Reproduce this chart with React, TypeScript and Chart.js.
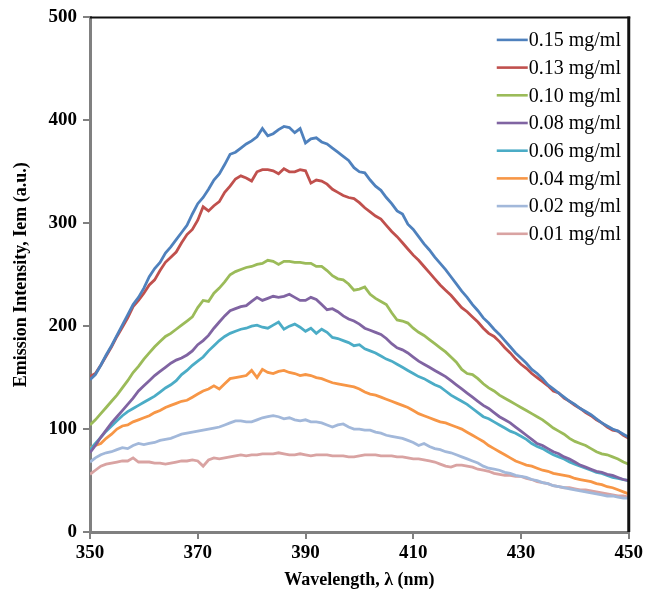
import React, { useEffect, useRef } from "react";
import { Chart, registerables } from "chart.js";

Chart.register(...registerables);

const wavelengths = [
  350, 351, 352, 353, 354, 355, 356, 357, 358, 359,
  360, 361, 362, 363, 364, 365, 366, 367, 368, 369,
  370, 371, 372, 373, 374, 375, 376, 377, 378, 379,
  380, 381, 382, 383, 384, 385, 386, 387, 388, 389,
  390, 391, 392, 393, 394, 395, 396, 397, 398, 399,
  400, 401, 402, 403, 404, 405, 406, 407, 408, 409,
  410, 411, 412, 413, 414, 415, 416, 417, 418, 419,
  420, 421, 422, 423, 424, 425, 426, 427, 428, 429,
  430, 431, 432, 433, 434, 435, 436, 437, 438, 439,
  440, 441, 442, 443, 444, 445, 446, 447, 448, 449, 450,
];

const seriesLabels = [
  "0.15 mg/ml",
  "0.13 mg/ml",
  "0.10 mg/ml",
  "0.08 mg/ml",
  "0.06 mg/ml",
  "0.04 mg/ml",
  "0.02 mg/ml",
  "0.01 mg/ml",
];

const c015 = [
  148, 153, 162, 172, 181, 191, 201, 211, 221, 228,
  237, 248, 256, 262, 271, 277, 284, 291, 298, 309,
  319, 325, 333, 342, 348, 357, 367, 369, 373, 377,
  380, 384, 392, 385, 387, 391, 394, 393, 388, 392,
  378, 382, 383, 379, 377, 373, 369, 365, 361, 354,
  350, 349, 342, 336, 332, 325, 319, 312, 309, 299,
  294, 287, 280, 274, 267, 261, 255, 248, 241, 234,
  228, 221, 215, 208, 203, 197, 192, 186, 180, 174,
  169, 164, 158, 154, 149, 143, 139, 135, 131, 127,
  124, 120, 117, 114, 110, 106, 103, 100, 98, 95, 92,
];

const c013 = [
  151, 154, 162, 171, 180, 190, 199, 208, 219, 225,
  232, 240, 245, 254, 262, 267, 272, 281, 289, 294,
  303, 316, 312, 317, 321, 330, 336, 343, 346, 344,
  341, 350, 352, 352, 351, 348, 353, 350, 350, 352,
  351, 339, 342, 341, 338, 333, 330, 327, 325, 324,
  320, 315, 311, 307, 304, 298, 292, 287, 281, 275,
  269, 264, 258, 252, 246, 240, 235, 230, 224, 218,
  214, 209, 204, 198, 193, 190, 185, 179, 174, 168,
  163, 159, 154, 150, 146, 142, 137, 135, 130, 127,
  123, 120, 116, 113, 109, 106, 102, 99, 98, 94, 91,
];

const c010 = [
  104, 109, 115, 121, 127, 133, 140, 147, 155, 161,
  168, 174, 180, 185, 190, 193, 197, 201, 205, 209,
  218, 225, 224, 232, 237, 243, 250, 253, 255, 257,
  258, 260, 261, 264, 263, 260, 263, 263, 262, 262,
  261, 261, 258, 258, 254, 249, 246, 245, 241, 235,
  236, 238, 231, 227, 224, 221, 213, 206, 205, 203,
  198, 194, 191, 187, 183, 179, 175, 170, 165, 158,
  154, 153, 149, 144, 140, 137, 133, 130, 127, 124,
  121, 118, 115, 112, 109, 105, 101, 98, 95, 91,
  88, 86, 84, 81, 78, 76, 75, 73, 71, 68, 66,
];

const c008 = [
  77, 84, 92, 99, 106, 112, 118, 124, 130, 137,
  142, 147, 152, 156, 160, 164, 167, 169, 172, 176,
  182, 186, 191, 198, 204, 210, 215, 217, 219, 220,
  224, 228, 225, 227, 229, 228, 229, 231, 228, 225,
  225, 228, 226, 221, 216, 217, 214, 210, 207, 205,
  202, 198, 196, 194, 192, 188, 183, 179, 177, 174,
  170, 166, 163, 160, 157, 154, 151, 147, 143, 139,
  135, 131, 127, 123, 120, 116, 112, 109, 106, 102,
  98, 94, 90, 86, 84, 81, 78, 76, 73, 71,
  68, 65, 63, 61, 59, 58, 56, 55, 53, 51, 50,
];

const c006 = [
  80, 86, 92, 98, 103, 108, 113, 117, 120, 123,
  126, 129, 132, 136, 140, 143, 147, 153, 157, 162,
  166, 170, 176, 181, 186, 190, 193, 195, 197, 198,
  200, 201, 199, 198, 201, 204, 197, 200, 202, 199,
  195, 198, 193, 197, 194, 189, 188, 186, 184, 181,
  182, 178, 176, 174, 171, 168, 166, 163, 160, 157,
  154, 151, 149, 146, 143, 141, 137, 133, 130, 127,
  124, 120, 116, 112, 110, 107, 104, 101, 98, 96,
  93, 90, 86, 83, 81, 78, 75, 73, 71, 68,
  66, 64, 62, 60, 58, 57, 55, 53, 52, 51, 50,
];

const c004 = [
  82, 84, 86, 91, 95, 100, 103, 104, 107, 109,
  111, 113, 116, 118, 121, 123, 125, 127, 128, 131,
  134, 137, 139, 142, 139, 144, 149, 150, 151, 152,
  157, 150, 158, 155, 154, 156, 157, 155, 154, 152,
  153, 152, 150, 149, 147, 145, 144, 143, 142, 141,
  139, 136, 134, 133, 131, 129, 127, 125, 123, 121,
  118, 115, 113, 111, 109, 107, 106, 104, 102, 100,
  97, 94, 91, 88, 84, 81, 78, 75, 72, 69,
  67, 65, 64, 62, 60, 59, 57, 56, 55, 54,
  52, 51, 50, 49, 47, 46, 44, 43, 41, 39, 37,
];

const c002 = [
  68, 72, 75, 77, 78, 80, 82, 81, 84, 86,
  85, 86, 87, 89, 90, 91, 93, 95, 96, 97,
  98, 99, 100, 101, 102, 104, 106, 108, 108, 107,
  107, 109, 111, 112, 113, 112, 110, 111, 109, 108,
  109, 107, 107, 106, 104, 102, 104, 105, 102, 100,
  100, 99, 99, 97, 96, 94, 93, 92, 91, 89,
  87, 84, 86, 83, 81, 80, 78, 77, 75, 73,
  71, 69, 67, 64, 62, 61, 60, 58, 57, 55,
  54, 53, 51, 50, 48, 47, 45, 44, 43, 42,
  41, 40, 39, 38, 37, 36, 35, 35, 34, 33, 33,
];

const c001 = [
  56, 60, 64, 66, 67, 68, 69, 69, 72, 68,
  68, 68, 67, 67, 66, 67, 68, 69, 69, 70,
  69, 64, 70, 72, 71, 72, 73, 74, 75, 74,
  75, 75, 76, 76, 76, 77, 76, 75, 75, 76,
  75, 74, 75, 75, 75, 74, 74, 74, 73, 73,
  74, 75, 75, 75, 74, 74, 74, 73, 73, 72,
  71, 71, 70, 69, 68, 66, 64, 63, 65, 65,
  64, 63, 61, 60, 59, 57, 56, 55, 55, 54,
  54, 52, 51, 49, 48, 47, 45, 44, 43, 43,
  42, 41, 41, 40, 39, 38, 37, 36, 35, 35, 34,
];

const seriesValues = [c015, c013, c010, c008, c006, c004, c002, c001];

const seriesColors = [
  "#4F81BD",
  "#C0504D",
  "#9BBB59",
  "#8064A2",
  "#4BACC6",
  "#F79646",
  "#A2B8DA",
  "#D9A3A2",
];

const xTicks = [350, 370, 390, 410, 430, 450];
const yTicks = [0, 100, 200, 300, 400, 500];

const xTitle = "Wavelength, λ (nm)";
const yTitle = "Emission Intensity, Iem (a.u.)";

const FONT = "'Liberation Serif', 'Times New Roman', Times, serif";

const framePlugin = {
  id: "frameBorder",
  afterDatasetsDraw(chart: any) {
    const { ctx, chartArea } = chart;
    const { left, right, top, bottom } = chartArea;
    ctx.save();
    ctx.strokeStyle = "#111111";
    ctx.lineWidth = 2;
    ctx.beginPath();
    ctx.moveTo(left, top);
    ctx.lineTo(right + 1.5, top);
    ctx.stroke();
    ctx.lineWidth = 3;
    ctx.beginPath();
    ctx.moveTo(right, top - 1);
    ctx.lineTo(right, bottom);
    ctx.stroke();
    ctx.restore();
  },
};

const insideLegendPlugin = {
  id: "insideLegend",
  afterDraw(chart: any) {
    const { ctx, chartArea } = chart;
    const x0 = chartArea.right - 132;
    const y0 = chartArea.top + 22.5;
    const step = 27.7;
    ctx.save();
    ctx.font = `20px ${FONT}`;
    ctx.textBaseline = "middle";
    ctx.textAlign = "left";
    chart.data.datasets.forEach((ds: any, i: number) => {
      const y = y0 + i * step;
      ctx.strokeStyle = ds.borderColor;
      ctx.lineWidth = 2.6;
      ctx.beginPath();
      ctx.moveTo(x0, y);
      ctx.lineTo(x0 + 31, y);
      ctx.stroke();
      ctx.fillStyle = "#000000";
      ctx.fillText(ds.label, x0 + 32, y + 1);
    });
    ctx.restore();
  },
};

export default function App() {
  const canvasRef = useRef<HTMLCanvasElement | null>(null);

  useEffect(() => {
    const canvas = canvasRef.current;
    if (!canvas) return;

    const datasets = seriesLabels.map((label, i) => ({
      label,
      data: wavelengths.map((w, j) => ({ x: w, y: seriesValues[i][j] })),
      borderColor: seriesColors[i],
      backgroundColor: seriesColors[i],
      borderWidth: 2.8,
      pointRadius: 0,
      tension: 0,
      fill: false,
    }));

    const chart = new Chart(canvas, {
      type: "line",
      data: { datasets },
      plugins: [framePlugin, insideLegendPlugin],
      options: {
        responsive: false,
        animation: false,
        devicePixelRatio: 1,
        layout: { padding: { top: 16, right: 16, left: 0, bottom: 0 } },
        plugins: {
          legend: { display: false },
          tooltip: { enabled: false },
          title: { display: false },
        },
        scales: {
          x: {
            type: "linear",
            min: 350,
            max: 450,
            afterBuildTicks: (s: any) => {
              s.ticks = xTicks.map((v) => ({ value: v }));
            },
            afterFit: (s: any) => {
              s.height = 59;
            },
            grid: {
              drawOnChartArea: false,
              drawTicks: true,
              tickLength: 7,
              color: "#808080",
              lineWidth: 2,
            },
            border: { display: true, color: "#808080", width: 3 },
            ticks: {
              color: "#000000",
              font: { family: FONT, size: 19, weight: "bold" },
              padding: 3,
              maxRotation: 0,
              autoSkip: false,
            },
            title: {
              display: true,
              text: xTitle,
              color: "#000000",
              font: { family: FONT, size: 18, weight: "bold" },
              padding: { top: 0, bottom: 0 },
            },
          },
          y: {
            type: "linear",
            min: 0,
            max: 500,
            afterBuildTicks: (s: any) => {
              s.ticks = yTicks.map((v) => ({ value: v }));
            },
            afterFit: (s: any) => {
              s.width = 90;
            },
            grid: {
              drawOnChartArea: false,
              drawTicks: true,
              tickLength: 7,
              color: "#808080",
              lineWidth: 2,
            },
            border: { display: true, color: "#808080", width: 3 },
            ticks: {
              color: "#000000",
              font: { family: FONT, size: 19, weight: "bold" },
              padding: 6,
            },
            title: {
              display: true,
              text: yTitle,
              color: "#000000",
              font: { family: FONT, size: 18, weight: "bold" },
              padding: { top: 11, bottom: 0 },
            },
          },
        },
      },
    } as any);

    return () => {
      chart.destroy();
    };
  }, []);

  return (
    <div style={{ position: "absolute", left: 0, top: 0, width: 646, height: 591, background: "#ffffff" }}>
      <canvas ref={canvasRef} width={646} height={591} style={{ display: "block" }} />
    </div>
  );
}
